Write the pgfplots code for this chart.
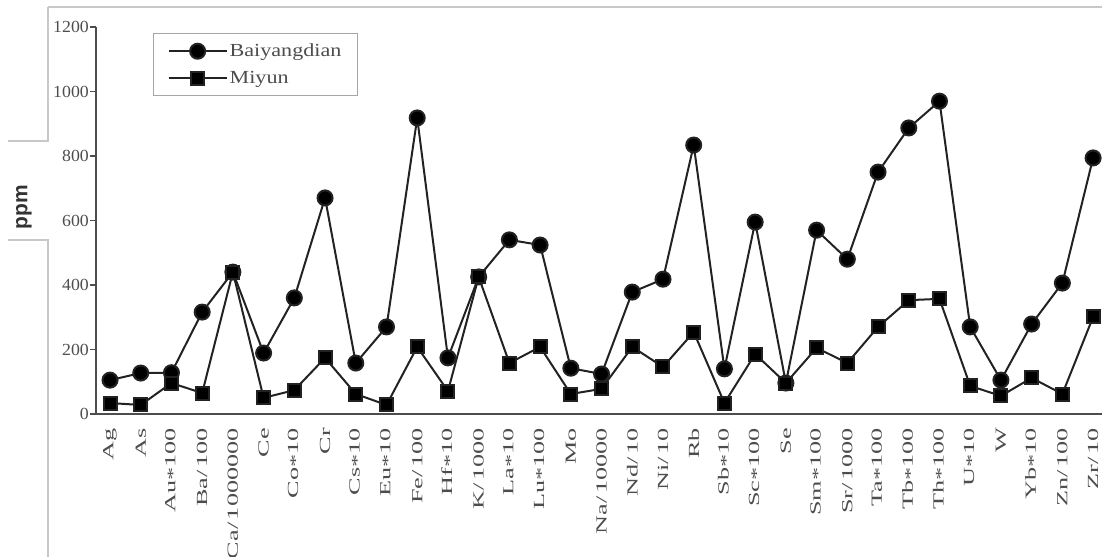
\documentclass[border=0pt]{standalone}
\usepackage{fontspec}
\setmainfont{Liberation Serif}[FakeStretch=1.2]
\newfontfamily\xfont{Liberation Serif}[FakeStretch=1.7]
\newfontfamily\yfont{Liberation Serif}[FakeStretch=1.05]
\newfontfamily\ppmfont{Liberation Sans}
\usepackage{pgfplots}
\pgfplotsset{compat=1.18}
\usepackage{pgfplotstable}
\definecolor{txt}{HTML}{4D4D4D}
\definecolor{ln}{HTML}{222222}
\definecolor{frame}{HTML}{C8C8C8}
\newcommand\st{\raisebox{-0.35ex}{*}}
\pgfplotstableread{
x b m
0 105 34
1 127 28
2 128 96
3 316 65
4 440 440
5 189 50
6 360 74
7 670 174
8 158 62
9 270 28
10 918 208
11 174 71
12 425 425
13 540 158
14 524 208
15 142 62
16 124 78
17 378 208
18 418 146
19 834 254
20 140 34
21 595 186
22 96 96
23 570 205
24 480 158
25 750 270
26 887 353
27 970 357
28 270 87
29 105 56
30 279 112
31 406 62
32 794 301
}\datatable
\begin{document}
\begin{tikzpicture}
\begin{axis}[
  at={(0,0)}, anchor=south west,
  scale only axis, width=1006bp, height=387bp,
  xmin=-0.456, xmax=32.29, ymin=0, ymax=1200,
  axis x line=bottom, axis y line=left,
  axis line style={-, draw=txt, line width=2.5bp},
  xtick=data,
  xticklabels={Ag,As,Au\st100,Ba/\,100,Ca/\,1000000,Ce,Co\st10,Cr,Cs\st10,Eu\st10,Fe/\,100,Hf\st10,K/\,1000,La\st10,Lu\st100,Mo,Na/\,10000,Nd/\,10,Ni/\,10,Rb,Sb\st10,Sc\st100,Se,Sm\st100,Sr/\,1000,Ta\st100,Tb\st100,Th\st100,U\st10,W,Yb\st10,Zn/\,100,Zr/\,10},
  x tick label style={rotate=90, anchor=east, font=\xfont\fontsize{15.5}{17}\selectfont, text=txt, xshift=-8bp, inner sep=0pt},
  x tick style={draw=none},
  ytick={0,200,...,1200},
  y tick label style={font=\yfont\fontsize{17}{19}\selectfont, text=txt, inner sep=1bp, /pgf/number format/1000 sep={}},
  /pgf/number format/assume math mode=true,
  y tick style={draw=txt, line width=1.8bp},
  tick align=outside, major tick length=6bp,
  clip=false,
  legend style={at={(rel axis cs:0.0567,0.9845)}, anchor=north west,
    draw=gray!70, line width=1.2pt, inner xsep=14bp, inner ysep=8.5bp,
    row sep=9bp,
    font=\fontsize{18.5}{20}\selectfont, text=txt, legend cell align=left},
  legend image code/.code={\draw[mark repeat=2,mark phase=2,#1] plot coordinates {(0bp,0bp) (29bp,0bp) (58bp,0bp)};},
]
\addplot[ln, line width=2bp, mark=*, mark size=7.5bp, mark options={fill=black, draw=ln}] table[x=x,y=b]{\datatable};
\addlegendentry{Baiyangdian}
\addplot[ln, line width=2bp, mark=square*, mark size=6.5bp, mark options={fill=black, draw=ln}] table[x=x,y=m]{\datatable};
\addlegendentry{Miyun}
\end{axis}
\draw[frame, line width=1.5bp] (-48bp,407bp) -- (1006bp,407bp);
\draw[frame, line width=1.5bp] (-48bp,407bp) -- (-48bp,273bp) -- (-88bp,273bp);
\draw[frame, line width=1.5bp] (-88bp,174bp) -- (-48bp,174bp) -- (-48bp,-143bp);
\node[rotate=90, font=\ppmfont\bfseries\fontsize{21}{23}\selectfont, text=black!80] at (-72bp,207bp) {ppm};
\pgfresetboundingbox
\path (-96bp,-143bp) rectangle (1006bp,414bp);
\end{tikzpicture}
\end{document}
